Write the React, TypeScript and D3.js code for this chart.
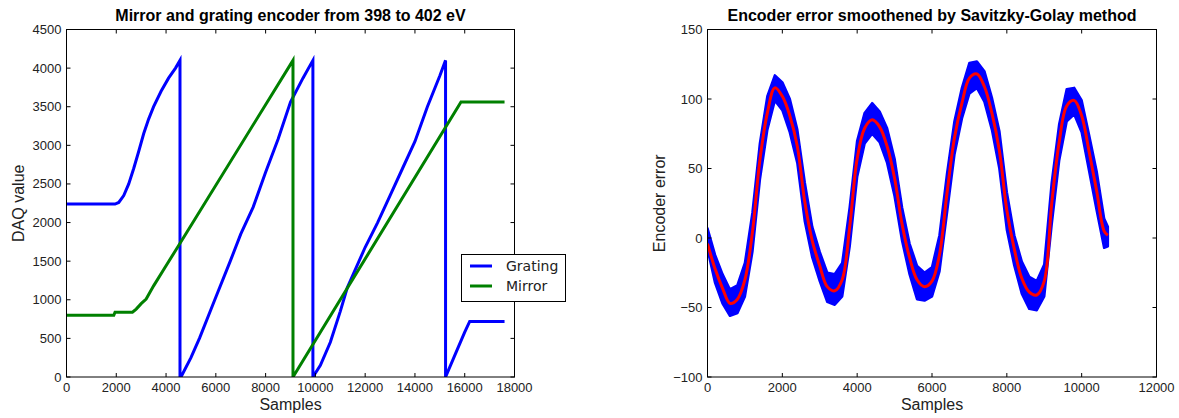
import React from "react";
import * as d3 from "d3";

// left panel: DAQ values of grating and mirror encoders
const gratingSamples = [0, 1950, 2100, 2300, 2500, 2700, 2900, 3100, 3300, 3500, 3800, 4100, 4380, 4560, 4560, 4600, 5000, 5350, 5970, 6580, 7000, 7500, 8000, 8500, 9000, 9500, 9900, 9900, 10200, 10600, 11000, 11280, 12000, 12500, 13000, 13500, 14000, 14500, 15000, 15230, 15230, 15600, 16000, 16200, 17600];
const gratingValues = [2240, 2240, 2260, 2350, 2500, 2700, 2920, 3150, 3340, 3500, 3700, 3870, 4000, 4100, 0, 0, 250, 506, 1010, 1500, 1850, 2200, 2650, 3080, 3560, 3870, 4100, 0, 150, 450, 850, 1155, 1680, 2000, 2350, 2700, 3050, 3500, 3900, 4100, 0, 280, 580, 720, 720];
const mirrorSamples = [0, 1900, 1950, 2650, 2800, 3000, 3200, 3500, 4000, 4500, 9100, 9100, 15850, 17600];
const mirrorValues = [800, 800, 840, 840, 880, 950, 1010, 1180, 1440, 1700, 4100, 0, 3560, 3560];

// right panel: encoder error, raw band (upper/lower) and smoothed curve
const errSamples = [0, 200, 400, 600, 800, 1000, 1200, 1400, 1600, 1800, 2000, 2200, 2400, 2600, 2800, 3000, 3200, 3400, 3600, 3800, 4000, 4200, 4400, 4600, 4800, 5000, 5200, 5400, 5600, 5800, 6000, 6200, 6400, 6600, 6800, 7000, 7200, 7400, 7600, 7800, 8000, 8200, 8400, 8600, 8800, 9000, 9200, 9400, 9600, 9800, 10000, 10200, 10400, 10600, 10700];
const smoothed = [-4, -22, -36, -47, -44, -30, 4, 56, 90, 108, 102, 88, 66, 26, -2, -20, -35, -38, -30, 8, 57, 79, 85, 80, 66, 43, 10, -14, -30, -35, -31, -12, 32, 72, 97, 115, 118, 109, 90, 63, 20, -8, -29, -39, -41, -31, 25, 69, 95, 99, 88, 62, 34, 5, 2];
const rawUpper = [7, -12, -26, -37, -34, -18, 18, 68, 102, 117, 112, 100, 78, 40, 8, -10, -25, -26, -18, 22, 70, 90, 97, 91, 79, 57, 22, -4, -20, -25, -21, 2, 46, 84, 108, 126, 127, 120, 101, 77, 33, 2, -17, -28, -31, -19, 40, 82, 107, 108, 99, 74, 48, 14, 8];
const rawLower = [-8, -32, -47, -56, -54, -42, -10, 42, 78, 99, 92, 76, 54, 12, -14, -31, -46, -48, -42, -6, 44, 68, 75, 69, 54, 30, -2, -26, -44, -45, -42, -24, 18, 60, 86, 104, 108, 98, 78, 50, 6, -20, -40, -51, -52, -42, 10, 56, 84, 89, 76, 48, 20, -7, -6];

const leftXTicks = [0, 2000, 4000, 6000, 8000, 10000, 12000, 14000, 16000, 18000];
const leftYTicks = [0, 500, 1000, 1500, 2000, 2500, 3000, 3500, 4000, 4500];
const rightXTicks = [0, 2000, 4000, 6000, 8000, 10000, 12000];
const rightYTicks = [-100, -50, 0, 50, 100, 150];
const legendItems = ["Grating", "Mirror"];

const W = 1179;
const H = 418;
const TOP = 29.5;
const BOTTOM = 377;
const FONT = "'Liberation Sans', Arial, sans-serif";

const fmt = (d: number) => (d < 0 ? "\u2212" + Math.abs(d) : String(d));

function Frame({ x, y, xTicks, yTicks, title, xLabel, yLabel }: any) {
  const [x0, x1] = x.range();
  const [y0, y1] = y.range();
  const T = 4;
  return (
    <g fontFamily={FONT} fill="#000">
      <rect x={x0} y={y1} width={x1 - x0} height={y0 - y1} fill="none" stroke="#000" strokeWidth={1} />
      {xTicks.map((t: number) => (
        <g key={"x" + t}>
          <line x1={x(t)} x2={x(t)} y1={y0} y2={y0 - T} stroke="#000" />
          <line x1={x(t)} x2={x(t)} y1={y1} y2={y1 + T} stroke="#000" />
          <text x={x(t)} y={392} textAnchor="middle" fontSize={13} fill="#222">{fmt(t)}</text>
        </g>
      ))}
      {yTicks.map((t: number) => (
        <g key={"y" + t}>
          <line x1={x0} x2={x0 + T} y1={y(t)} y2={y(t)} stroke="#000" />
          <line x1={x1} x2={x1 - T} y1={y(t)} y2={y(t)} stroke="#000" />
          <text x={x0 - 5} y={y(t) + 4.5} textAnchor="end" fontSize={13} fill="#222">{fmt(t)}</text>
        </g>
      ))}
      <text x={(x0 + x1) / 2} y={21} textAnchor="middle" fontSize={16} fontWeight="bold">{title}</text>
      <text x={(x0 + x1) / 2} y={410} textAnchor="middle" fontSize={16} fill="#222">{xLabel}</text>
      <text transform={`translate(${x0 - 43},${(y0 + y1) / 2}) rotate(-90)`} textAnchor="middle" fontSize={16} fill="#222">{yLabel}</text>
    </g>
  );
}

export default function App() {
  const xL = d3.scaleLinear().domain([0, 18000]).range([66.5, 514.5]);
  const yL = d3.scaleLinear().domain([0, 4500]).range([BOTTOM, TOP]);
  const xR = d3.scaleLinear().domain([0, 12000]).range([707.5, 1156.5]);
  const yR = d3.scaleLinear().domain([-100, 150]).range([BOTTOM, TOP]);

  const gratingPath = d3.line<number>().x((d) => xL(d)).y((_, i) => yL(gratingValues[i]))(gratingSamples);
  const mirrorPath = d3.line<number>().x((d) => xL(d)).y((_, i) => yL(mirrorValues[i]))(mirrorSamples);

  const bandPath = d3
    .area<number>()
    .x((d) => xR(d))
    .y0((_, i) => yR(rawLower[i]))
    .y1((_, i) => yR(rawUpper[i]))(errSamples);
  const smoothPath = d3
    .line<number>()
    .x((d) => xR(d))
    .y((_, i) => yR(smoothed[i]))
    .curve(d3.curveCatmullRom)(errSamples);

  const colors = ["#0000ff", "#008000"];

  return (
    <svg width={W} height={H} style={{ position: "absolute", left: 0, top: 0, background: "#fff" }}>
      <rect width={W} height={H} fill="#fff" />
      <defs>
        <clipPath id="clipL"><rect x={66} y={TOP} width={449} height={BOTTOM - TOP} /></clipPath>
        <clipPath id="clipR"><rect x={707} y={TOP} width={450} height={BOTTOM - TOP} /></clipPath>
      </defs>
      <g clipPath="url(#clipL)">
        <path d={gratingPath || ""} fill="none" stroke={colors[0]} strokeWidth={3} />
        <path d={mirrorPath || ""} fill="none" stroke={colors[1]} strokeWidth={3} />
      </g>
      <Frame x={xL} y={yL} xTicks={leftXTicks} yTicks={leftYTicks}
        title="Mirror and grating encoder from 398 to 402 eV" xLabel="Samples" yLabel="DAQ value" />
      <g>
        <rect x={461.5} y={254.5} width={104} height={47} fill="#fff" stroke="#000" strokeWidth={1} />
        {legendItems.map((s, i) => (
          <g key={s}>
            <line x1={470} x2={492} y1={266 + i * 20} y2={266 + i * 20} stroke={colors[i]} strokeWidth={3} />
            <text x={506} y={271 + i * 20} fontSize={14} fontFamily="'DejaVu Sans', sans-serif" fill="#222">{s}</text>
          </g>
        ))}
      </g>

      <g clipPath="url(#clipR)">
        <path d={bandPath || ""} fill="#0000ff" stroke="#0000ff" strokeWidth={2.5} strokeLinejoin="round" />
        <path d={smoothPath || ""} fill="none" stroke="#ff0000" strokeWidth={3} />
      </g>
      <Frame x={xR} y={yR} xTicks={rightXTicks} yTicks={rightYTicks}
        title="Encoder error smoothened by Savitzky-Golay method" xLabel="Samples" yLabel="Encoder error" />
    </svg>
  );
}
